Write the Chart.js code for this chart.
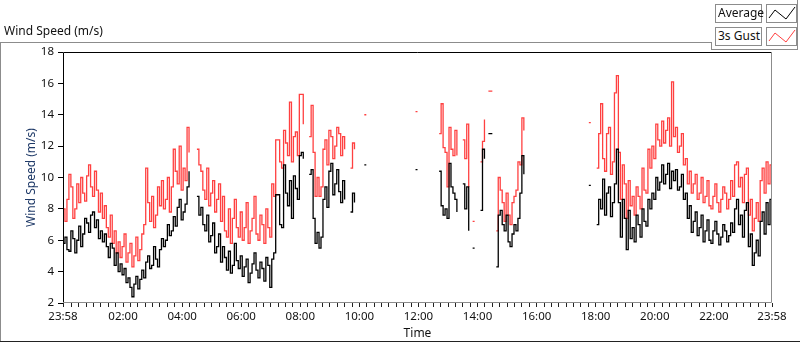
<!DOCTYPE html>
<html>
<head>
<meta charset="utf-8">
<title>Wind Speed</title>
<script src="https://cdn.jsdelivr.net/npm/chart.js@4/dist/chart.umd.min.js"></script>
<style>
  html, body { margin: 0; padding: 0; background: #fff; }
  #wrap { position: relative; width: 800px; height: 342px; overflow: hidden; font-family: "Noto Sans", sans-serif; color: #111; }
  #chart { position: absolute; left: 0; top: 0; }
  .line { position: absolute; }
  .title { position: absolute; left: 4px; top: 23px; font-size: 12px; line-height: 16px; white-space: nowrap; }
  .lg-name { position: absolute; box-sizing: border-box; width: 47px; height: 19px; border: 1px solid #8c8c8c; background: #fff;
             font-size: 12px; line-height: 16px; padding-left: 2px; white-space: nowrap; }
  .lg-swatch { position: absolute; box-sizing: border-box; width: 31px; height: 19px; border: 1px solid #8c8c8c; background: #fff; }
  .lg-swatch svg { position: absolute; left: 0; top: 0; }
</style>
</head>
<body>
<div id="wrap">
  <canvas id="chart" width="800" height="342"></canvas>
  <div class="title">Wind Speed (m/s)</div>
  <!-- outer frame -->
  <div class="line" style="left:0;top:42px;width:711px;height:1px;background:#8c8c8c"></div>
  <div class="line" style="left:0;top:42px;width:1px;height:300px;background:#8c8c8c"></div>
  <div class="line" style="left:0;top:341px;width:800px;height:1px;background:#222"></div>
  <div class="line" style="left:711px;top:42px;width:1px;height:8px;background:#8c8c8c"></div>
  <div class="line" style="left:711px;top:49px;width:87px;height:1px;background:#8c8c8c"></div>
  <div class="line" style="left:797px;top:0;width:1px;height:50px;background:#8c8c8c"></div>
  <!-- legend -->
  <div class="lg-name" style="left:715px;top:4px">Average</div>
  <div class="lg-swatch" style="left:766px;top:4px">
    <svg width="31" height="19"><polyline points="2,13 8,5 19,14 28,2" fill="none" stroke="#000" stroke-width="1"/></svg>
  </div>
  <div class="lg-name" style="left:715px;top:27px">3s Gust</div>
  <div class="lg-swatch" style="left:766px;top:27px">
    <svg width="31" height="19"><polyline points="2,13 8,5 19,14 28,2" fill="none" stroke="#ff4040" stroke-width="1"/></svg>
  </div>
</div>
<script>
// one sample every 4 minutes, starting at 23:58 (10 per row = 40 min); null = no data
const SAMPLE_MINUTES = 4;

const AVERAGE = [
  5.8, 6.2, 5.4, 5.3, 6.6, 6.1, 5.2, 6.0, 6.9, 5.6,
  6.4, 7.4, 7.1, 6.5, 7.6, 7.8, 6.8, 7.3, 6.1, 6.6,
  5.9, 6.4, 5.6, 4.9, 5.8, 5.5, 4.4, 5.2, 4.0, 4.5,
  3.8, 4.2, 3.3, 3.6, 3.0, 2.4, 3.2, 3.7, 2.9, 3.5,
  4.1, 3.6, 4.6, 5.0, 4.2, 4.4, 5.6, 4.8, 4.3, 5.4,
  6.1, 5.6, 6.0, 7.0, 6.3, 6.6, 7.5, 6.9, 8.1, 8.6,
  7.3, 7.8, 8.3, 9.4, 10.4, null, null, null, 8.8, 7.6,
  8.1, 7.0, 6.6, 7.6, 5.9, 6.3, 7.1, 5.2, 5.6, 6.4,
  4.6, 5.6, 4.9, 4.1, 5.3, 3.9, 4.4, 5.8, 4.7, 4.2,
  5.0, 3.7, 4.3, 4.8, 3.3, 3.9, 4.5, 5.2, 4.1, 3.6,
  4.6, 4.2, 3.4, 4.9, 4.4, 3.0, 4.8, 5.2, 8.9, 8.9,
  7.0, 6.8, 10.8, 9.0, 8.2, 9.8, 7.4, 10.1, 9.3, 8.6,
  11.4, 11.6, 11.2, null, null, 10.2, 10.5, 7.4, 5.8, 6.5,
  5.5, 6.2, 8.6, 9.4, 8.1, 10.4, 10.9, 8.9, 9.6, 10.5,
  9.1, 8.4, 9.8, 8.6, null, null, 7.8, 9.0, 8.4, null,
  null, null, null, 10.8, 10.8, null, null, null, null, null,
  null, null, null, null, null, null, null, null, null, null,
  null, null, null, null, null, null, null, null, null, 10.5,
  10.5, null, null, null, null, null, null, null, null, null,
  null, 10.4, 8.2, 7.6, 8.0, 7.4, 10.9, 9.4, 9.0, 8.6,
  7.8, null, null, 9.6, 8.0, 9.4, 6.6, null, 5.5, 5.5,
  null, null, 7.9, 11.8, 11.2, null, 12.8, 12.8, 12.8, null,
  4.3, 7.6, 7.9, 7.0, 6.6, 7.6, 5.9, 5.6, 6.4, 7.0,
  6.6, 7.4, 9.0, 11.4, 10.2, null, null, null, null, null,
  null, null, null, null, null, null, null, null, null, null,
  null, null, null, null, null, null, null, null, null, null,
  null, null, null, null, null, null, null, 9.5, 9.5, null,
  null, 7.0, 8.6, 8.0, 9.9, 7.6, 9.0, 9.4, 7.5, 8.4,
  9.6, 11.8, 8.4, 6.2, 8.6, 7.4, 5.4, 7.9, 6.1, 6.8,
  5.9, 7.6, 7.0, 6.2, 8.0, 7.2, 6.9, 8.6, 8.0, 9.0,
  8.6, 10.0, 9.2, 9.7, 10.8, 9.6, 10.2, 10.9, 9.3, 10.4,
  9.8, 10.5, 9.2, 9.4, 10.2, 8.6, 9.0, 7.4, 8.2, 6.5,
  7.2, 7.8, 6.3, 6.8, 7.6, 5.9, 6.6, 7.3, 6.0, 5.8,
  6.6, 7.2, 6.4, 5.7, 6.2, 7.0, 6.6, 5.9, 6.3, 7.1,
  6.5, 8.0, 8.6, 7.0, 7.6, 6.2, 7.9, 8.4, 5.6, 6.4,
  4.4, 5.2, 6.0, 5.0, 7.2, 7.8, 6.4, 8.4, 7.0, 8.6,
  6.8
];

const GUST = [
  8.0, 7.2, 8.6, 10.2, 9.4, 7.4, 8.0, 9.6, 8.4, 10.0,
  9.0, 8.5, 10.1, 10.8, 9.4, 8.8, 10.4, 9.2, 7.8, 9.0,
  7.4, 8.2, 6.8, 6.2, 7.6, 5.8, 6.6, 5.2, 5.9, 4.9,
  5.6, 6.4, 4.6, 5.2, 5.8, 4.3, 5.0, 6.2, 4.7, 5.4,
  6.4, 7.0, 10.6, 8.4, 7.2, 8.8, 6.8, 7.6, 9.4, 8.2,
  9.8, 8.0, 8.6, 10.0, 7.8, 9.4, 11.8, 10.4, 9.6, 12.0,
  9.2, 10.6, 9.8, 13.2, 11.6, null, null, null, 11.8, 10.8,
  10.4, 9.2, 8.6, 10.6, 8.2, 9.0, 9.8, 7.8, 8.6, 9.6,
  7.2, 8.8, 6.6, 6.2, 8.0, 5.8, 7.4, 8.6, 6.8, 6.2,
  7.8, 6.0, 6.8, 8.4, 5.8, 6.6, 7.4, 8.8, 6.4, 6.0,
  7.6, 7.0, 5.8, 8.0, 6.8, 6.2, 9.6, 8.8, 12.4, 12.4,
  11.0, 10.6, 13.0, 12.2, 11.4, 14.8, 11.0, 12.6, 12.9, 11.4,
  15.3, 15.3, 13.4, null, null, 12.6, 14.6, 11.6, 8.8, 10.0,
  8.8, 9.4, 11.8, 12.4, 10.8, 13.0, 12.6, 11.2, 12.0, 13.2,
  12.8, 11.4, 12.6, 11.8, null, null, 10.6, 12.2, 11.8, null,
  null, null, null, 14.0, 14.0, null, null, null, null, null,
  null, null, null, null, null, null, null, null, null, null,
  null, null, null, null, null, null, null, null, null, 14.2,
  14.2, null, null, null, null, null, null, null, null, null,
  null, 12.8, 14.7, 11.9, 11.6, 9.4, 13.2, 11.8, 11.4, 13.0,
  11.4, null, null, 12.4, 11.2, 13.4, 9.4, null, 7.2, 7.2,
  null, null, 11.0, 12.3, 13.7, null, 15.5, 15.5, 15.5, null,
  6.6, 10.0, 9.2, 8.4, 7.2, 9.0, 7.6, 7.0, 8.4, 8.8,
  9.2, 11.0, 10.8, 13.8, 13.0, null, null, null, null, null,
  null, null, null, null, null, null, null, null, null, null,
  null, null, null, null, null, null, null, null, null, null,
  null, null, null, null, null, null, null, 13.5, 13.5, null,
  null, 10.6, 12.8, 14.7, 11.2, 10.4, 12.8, 13.2, 10.2, 11.0,
  15.4, 16.5, 11.6, 8.6, 10.8, 9.6, 7.4, 9.8, 8.2, 8.8,
  7.6, 9.4, 8.8, 8.0, 10.6, 9.2, 9.0, 11.8, 10.6, 12.0,
  11.2, 13.4, 12.4, 12.0, 13.6, 12.2, 13.0, 13.8, 12.0, 16.1,
  12.6, 13.2, 11.6, 12.0, 12.8, 10.8, 11.2, 9.6, 10.4, 9.0,
  9.6, 10.2, 8.6, 9.0, 10.0, 8.4, 8.8, 9.8, 8.2, 8.0,
  8.8, 9.6, 8.4, 7.8, 8.6, 9.4, 9.0, 8.0, 8.6, 9.8,
  8.8, 10.8, 11.0, 9.4, 10.0, 8.4, 10.2, 10.6, 7.6, 8.6,
  6.6, 7.4, 8.4, 7.2, 9.8, 10.6, 9.0, 11.0, 9.6, 10.8,
  10.2
];

// x axis: minutes since 23:58
const TICK_MINUTES = [0, 122, 242, 362, 482, 602, 722, 842, 962, 1082, 1202, 1322, 1440];
const TICK_LABELS = ["23:58", "02:00", "04:00", "06:00", "08:00", "10:00", "12:00",
                     "14:00", "16:00", "18:00", "20:00", "22:00", "23:58"];
const MINOR_TICK_FIRST = 2;   // 00:00
const MINOR_TICK_STEP = 15;

const Y_MIN = 2;
const Y_MAX = 18;
const Y_STEP = 2;

const FONT = "'Noto Sans', sans-serif";
const RED = "#ff4040";

function toPoints(values) {
  return values.map((v, i) => ({ x: i * SAMPLE_MINUTES, y: v }));
}

// major + minor tick positions for the time axis
const xTicks = TICK_MINUTES.slice();
for (let m = MINOR_TICK_FIRST; m < TICK_MINUTES[TICK_MINUTES.length - 1]; m += MINOR_TICK_STEP) {
  if (!xTicks.includes(m)) xTicks.push(m);
}
xTicks.sort((a, b) => a - b);

//plot frame: dark top/left, grey bottom/right
const framePlugin = {
  id: "frame",
  afterDraw(chart) {
    const { ctx, chartArea: a } = chart;
    ctx.save();
    ctx.lineWidth = 1;
    ctx.strokeStyle = "#000";
    ctx.beginPath();
    ctx.moveTo(a.left + 0.5, a.bottom);
    ctx.lineTo(a.left + 0.5, a.top + 0.5);
    ctx.lineTo(a.right, a.top + 0.5);
    ctx.stroke();
    ctx.strokeStyle = "#8c8c8c";
    ctx.beginPath();
    ctx.moveTo(a.right - 0.5, a.top);
    ctx.lineTo(a.right - 0.5, a.bottom - 0.5);
    ctx.lineTo(a.left, a.bottom - 0.5);
    ctx.stroke();
    ctx.restore();
  }
};

const ctx = document.getElementById("chart").getContext("2d");
new Chart(ctx, {
  type: "line",
  data: {
    datasets: [
      {
        label: "Average",
        data: toPoints(AVERAGE),
        borderColor: "#000",
        borderWidth: 1.3,
        pointRadius: 0,
        stepped: true,
        spanGaps: false
      },
      {
        label: "3s Gust",
        data: toPoints(GUST),
        borderColor: RED,
        borderWidth: 1.3,
        pointRadius: 0,
        stepped: true,
        spanGaps: false
      }
    ]
  },
  options: {
    responsive: false,
    animation: false,
    layout: { padding: { left: 0, top: 52, right: 28, bottom: 0 } },
    plugins: {
      legend: { display: false },
      tooltip: { enabled: false }
    },
    scales: {
      x: {
        type: "linear",
        min: TICK_MINUTES[0],
        max: TICK_MINUTES[TICK_MINUTES.length - 1],
        afterBuildTicks: (scale) => {
          scale.ticks = xTicks.map((v) => ({ value: v }));
        },
        afterFit: (scale) => { scale.height = 39; },
        ticks: {
          autoSkip: false,
          maxRotation: 0,
          padding: 3,
          color: "#111",
          font: { family: FONT, size: 11.5 },
          callback: (value) => {
            const k = TICK_MINUTES.indexOf(value);
            return k >= 0 ? TICK_LABELS[k] : "";
          }
        },
        grid: {
          drawOnChartArea: false,
          tickLength: 4,
          color: "#222"
        },
        border: { display: false },
        title: {
          display: true,
          text: "Time",
          color: "#111",
          font: { family: FONT, size: 12 },
          padding: { top: 0, bottom: 1 }
        }
      },
      y: {
        min: Y_MIN,
        max: Y_MAX,
        afterFit: (scale) => { scale.width = 63; },
        ticks: {
          stepSize: Y_STEP,
          padding: 4,
          color: "#111",
          font: { family: FONT, size: 11.5 }
        },
        grid: {
          drawOnChartArea: false,
          tickLength: 5,
          color: "#000"
        },
        border: { display: false },
        title: {
          display: true,
          text: "Wind Speed (m/s)",
          color: "#1f3a68",
          font: { family: FONT, size: 12 },
          padding: { top: 24, bottom: 0 }
        }
      }
    }
  },
  plugins: [framePlugin]
});
</script>
</body>
</html>
